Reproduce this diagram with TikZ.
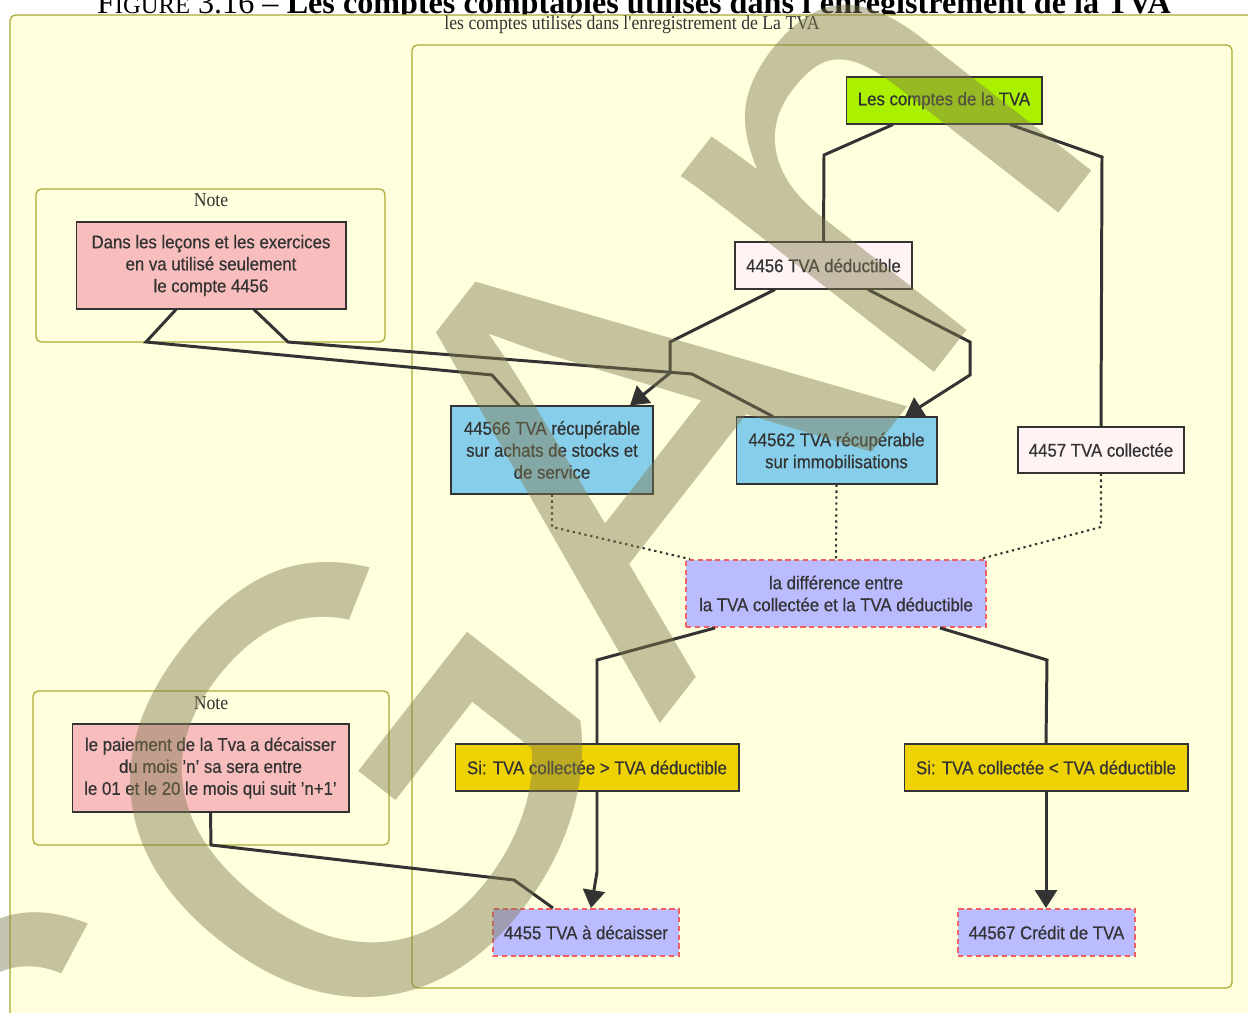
\documentclass[tikz,border=0pt]{standalone}
\usepackage{fontspec}
\setmainfont{Liberation Sans}[FakeStretch=0.91, FakeBold=0.5]
\newfontfamily\notefont{Liberation Serif}[FakeStretch=0.9]
\newfontfamily\titlefont{Liberation Serif}
\newfontfamily\wmfont{Liberation Sans}
\usetikzlibrary{arrows.meta}
\definecolor{clusterfill}{HTML}{FFFFDE}
\definecolor{clusterline}{HTML}{AAAA33}
\definecolor{txt}{HTML}{333333}
\definecolor{compteGreen}{HTML}{AAF000}
\definecolor{paleRose}{HTML}{FFF3F3}
\definecolor{skyBlue}{HTML}{87CEEB}
\definecolor{notePink}{HTML}{F8BEBE}
\definecolor{lavBlue}{HTML}{BBBBFF}
\definecolor{redDash}{HTML}{F06060}
\definecolor{gold}{HTML}{EED202}
\definecolor{wmGray}{HTML}{807A50}
\tikzstyle{box} = [draw=txt, line width=0.6pt, text=txt, font=\fontsize{10.5}{12.5}\selectfont, align=center, inner sep=0pt]
\tikzstyle{dashbox} = [box, draw=redDash, line width=1.1pt, dash pattern=on 3pt off 2pt, fill=lavBlue]
\tikzstyle{cluster} = [draw=clusterline, fill=clusterfill, line width=0.7pt, rounded corners=3pt]
\tikzstyle{serif} = [text=txt, font=\notefont\fontsize{11.2}{12}\selectfont]
\tikzstyle{link} = [draw=txt, line width=1.7pt]
\tikzstyle{arrow} = [link, -{Triangle[length=0.36cm,width=0.44cm]}]
\tikzstyle{dots} = [draw=txt, line width=1.2pt, dash pattern=on 1.3pt off 2.1pt]

\begin{document}
\begin{tikzpicture}[x=0.02cm, y=-0.02cm]
    \clip (0,0) rectangle (1248,1013);
    % caption, cut by the page
    \node[anchor=base, text=black, font=\titlefont\fontsize{18.3}{20}\selectfont] (caption) at (634,14)
        {F{\fontsize{14}{15}\selectfont IGURE} 3.16 – \textbf{Les comptes comptables utilisés dans l'enregistrement de la TVA}};
    % clusters
    \draw[cluster] (10,15) rectangle (1275,1040);
    \node[serif] (titre) at (632,25) {les comptes utilisés dans l'enregistrement de La TVA};
    \draw[cluster] (412,45) rectangle (1232,988);
    \draw[cluster] (36,189) rectangle (385,342);
    \node[serif] (noteA) at (211,200) {Note};
    \draw[cluster] (33,691) rectangle (389,845);
    \node[serif] (noteB) at (211,703) {Note};

    % nodes
    \node[box, fill=compteGreen, minimum width=3.92cm, minimum height=0.94cm] (top) at (944,100.5) {Les comptes de la TVA};
    \node[box, fill=paleRose, minimum width=3.54cm, minimum height=0.94cm] (ded) at (823.5,265.5) {4456 TVA déductible};
    \node[box, fill=skyBlue, minimum width=4.04cm, minimum height=1.76cm] (ach) at (552,450) {44566 TVA récupérable\\sur achats de stocks et\\de service};
    \node[box, fill=skyBlue, minimum width=4.02cm, minimum height=1.34cm] (immo) at (836.5,450.5) {44562 TVA récupérable\\sur immobilisations};
    \node[box, fill=paleRose, minimum width=3.32cm, minimum height=0.92cm] (col) at (1101,450) {4457 TVA collectée};
    \node[dashbox, minimum width=6cm, minimum height=1.34cm] (diff) at (836,593.5) {la différence entre\\la TVA collectée et la TVA déductible};
    \node[box, fill=gold, minimum width=5.68cm, minimum height=0.94cm] (sup) at (597,767.5) {Si: TVA collectée > TVA déductible};
    \node[box, fill=gold, minimum width=5.68cm, minimum height=0.94cm] (inf) at (1046,767.5) {Si: TVA collectée < TVA déductible};
    \node[dashbox, minimum width=3.72cm, minimum height=0.94cm] (dec) at (586,932.5) {4455 TVA à décaisser};
    \node[dashbox, minimum width=3.54cm, minimum height=0.94cm] (cred) at (1046.5,932.5) {44567 Crédit de TVA};
    \node[box, fill=notePink, minimum width=5.4cm, minimum height=1.74cm] (n1) at (211,265.5) {Dans les leçons et les exercices\\en va utilisé seulement\\le compte 4456};
    \node[box, fill=notePink, minimum width=5.54cm, minimum height=1.76cm] (n2) at (210.5,768) {le paiement de la Tva a décaisser\\du mois 'n' sa sera entre\\le 01 et le 20 le mois qui suit 'n+1'};

    % connectors
    \draw[link] ([xshift=-1.02cm]top.south) -- (824,155) -- (ded.north);
    \draw[link] ([xshift=1.32cm]top.south) -- (1102,157) -- (col.north);
    \draw[arrow] ([xshift=-0.97cm]ded.south) -- (670,342) -- (670,373) -- ([xshift=1.56cm]ach.north);
    \draw[arrow] ([xshift=0.89cm]ded.south) -- (970,342) -- (970,375) -- ([xshift=1.37cm]immo.north);
    \draw[link] ([xshift=-0.7cm]n1.south) -- (146,342) -- (492,375) -- ([xshift=-0.66cm]ach.north);
    \draw[link] ([xshift=0.86cm]n1.south) -- (288,342) -- (692,374) -- ([xshift=-1.27cm]immo.north);
    \draw[dots] (ach.south) -- (552,527) -- ([xshift=0.1cm]diff.north west);
    \draw[dots] (immo.south) -- (diff.north);
    \draw[dots] (col.south) -- (1101,527) -- ([xshift=-0.14cm]diff.north east);
    \draw[link] ([xshift=-2.42cm]diff.south) -- (597,660) -- (sup.north);
    \draw[link] ([xshift=2.08cm]diff.south) -- (1047,660) -- (inf.north);
    \draw[arrow] (sup.south) -- (597,872) -- ([xshift=0.1cm]dec.north);
    \draw[arrow] (inf.south) -- (inf.south |- cred.north);
    \draw[link] (n2.south) -- (211,845) -- (514,880) -- ([xshift=-0.66cm]dec.north);

    % watermark
    \node[text=wmGray, opacity=0.45, rotate=52, font=\wmfont\fontsize{345}{345}\selectfont] (filigrane) at (454,649) {SGAn};
\end{tikzpicture}
\end{document}
